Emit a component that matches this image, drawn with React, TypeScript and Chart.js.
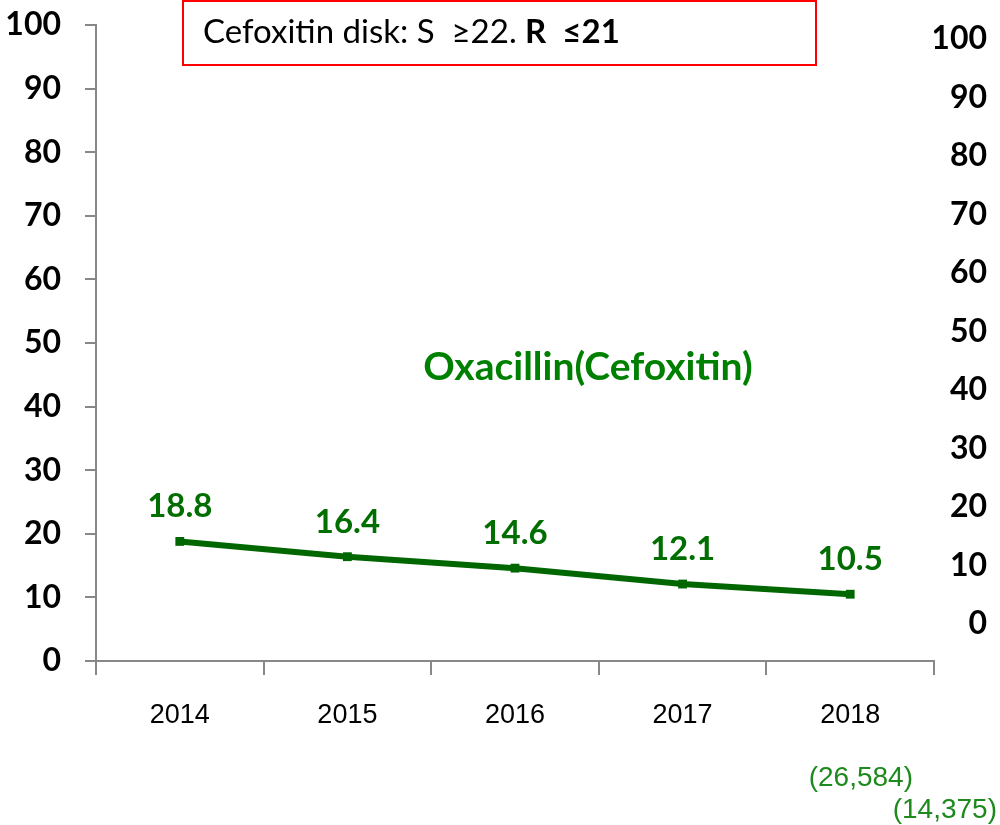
import React, { useEffect, useRef } from "react";
import { Chart, registerables } from "chart.js";

Chart.register(...registerables);

const years = ["2014", "2015", "2016", "2017", "2018"];
const oxacillinRates = [18.8, 16.4, 14.6, 12.1, 10.5];
const leftTicks = [0, 10, 20, 30, 40, 50, 60, 70, 80, 90, 100];
const rightTicks = [0, 10, 20, 30, 40, 50, 60, 70, 80, 90, 100];
const seriesTitle = "Oxacillin(Cefoxitin)";
const boxTextRegular = "Cefoxitin disk: S  \u226522. ";
const boxTextBold = "R  \u226421";
const isolateCounts = ["(26,584)", "(14,375)"];

const LINE_GREEN = "#006600";
const LABEL_GREEN = "#006e00";
const TITLE_GREEN = "#008000";
const COUNT_GREEN = "#1e8a1e";
const AXIS_GRAY = "#888888";

const overlayPlugin = {
  id: "overlay",
  afterDraw(chart: any) {
    const ctx = chart.ctx;
    ctx.save();
    // data labels
    const meta = chart.getDatasetMeta(0);
    ctx.fillStyle = LABEL_GREEN;
    ctx.font = "bold 33px Lato";
    ctx.textAlign = "center";
    ctx.textBaseline = "alphabetic";
    meta.data.forEach((pt: any, i: number) => {
      ctx.fillText(oxacillinRates[i].toFixed(1), pt.x, pt.y - 24);
    });
    // series title
    ctx.fillStyle = TITLE_GREEN;
    ctx.font = "bold 39px Lato";
    ctx.textAlign = "center";
    ctx.fillText(seriesTitle, 588, 380);
    // breakpoint box
    ctx.strokeStyle = "#ff0000";
    ctx.lineWidth = 2;
    ctx.strokeRect(183, 1, 633, 64);
    ctx.fillStyle = "#000000";
    ctx.textAlign = "left";
    ctx.font = "33px Lato";
    ctx.fillText(boxTextRegular, 203, 43);
    const w = ctx.measureText(boxTextRegular).width;
    ctx.font = "bold 33px Lato";
    ctx.fillText(boxTextBold, 203 + w, 43);
    // isolate counts
    ctx.fillStyle = COUNT_GREEN;
    ctx.font = "28px 'Liberation Sans'";
    ctx.textAlign = "right";
    ctx.fillText(isolateCounts[0], 913, 786);
    ctx.fillText(isolateCounts[1], 997, 818);
    ctx.restore();
  },
};

export default function App() {
  const ref = useRef<HTMLCanvasElement | null>(null);
  useEffect(() => {
    if (!ref.current) return;
    const chart = new Chart(ref.current, {
      type: "line",
      data: {
        labels: years,
        datasets: [
          {
            data: oxacillinRates,
            borderColor: LINE_GREEN,
            backgroundColor: LINE_GREEN,
            borderWidth: 6,
            pointRadius: 2,
            pointStyle: "rect",
            tension: 0,
            yAxisID: "y",
          },
        ],
      },
      options: {
        animation: false,
        responsive: false,
        events: [],
        layout: { padding: { top: 25, left: 0, right: 13, bottom: 0 } },
        plugins: { legend: { display: false }, tooltip: { enabled: false } },
        scales: {
          x: {
            type: "category",
            offset: true,
            grid: {
              offset: true,
              drawOnChartArea: false,
              drawTicks: true,
              tickLength: 14,
              color: AXIS_GRAY,
              lineWidth: 2,
            },
            border: { color: AXIS_GRAY, width: 2 },
            ticks: {
              font: { family: "'Liberation Sans'", size: 27 },
              color: "#000",
              padding: 24,
              maxRotation: 0,
            },
            afterFit: (a: any) => {
              a.height = 164;
              a.paddingLeft = 0;
              a.paddingRight = 0;
            },
          },
          y: {
            position: "left",
            min: 0,
            max: 100,
            afterBuildTicks: (a: any) => {
              a.ticks = leftTicks.map((v) => ({ value: v }));
            },
            grid: {
              drawOnChartArea: false,
              tickLength: 11,
              color: AXIS_GRAY,
              lineWidth: 2,
            },
            border: { color: AXIS_GRAY, width: 2 },
            ticks: {
              font: { family: "Lato", weight: "bold", size: 32 },
              color: "#000",
              padding: 24,
            },
            afterFit: (a: any) => {
              a.width = 96;
              a.paddingTop = 0;
              a.paddingBottom = 0;
            },
          },
          y2: {
            position: "right",
            min: -6.32,
            max: 102.39,
            afterBuildTicks: (a: any) => {
              a.ticks = rightTicks.map((v) => ({ value: v }));
            },
            grid: { display: false, drawTicks: false },
            border: { display: false },
            ticks: {
              font: { family: "Lato", weight: "bold", size: 32 },
              color: "#000",
              padding: 0,
              crossAlign: "far",
            },
            afterFit: (a: any) => {
              a.width = 53;
              a.paddingTop = 0;
              a.paddingBottom = 0;
            },
          },
        },
      } as any,
      plugins: [overlayPlugin],
    });
    return () => chart.destroy();
  }, []);
  return (
    <div style={{ position: "fixed", left: 0, top: 0, width: 1000, height: 825, background: "#fff" }}>
      <canvas ref={ref} width={1000} height={825} style={{ display: "block" }} />
    </div>
  );
}
